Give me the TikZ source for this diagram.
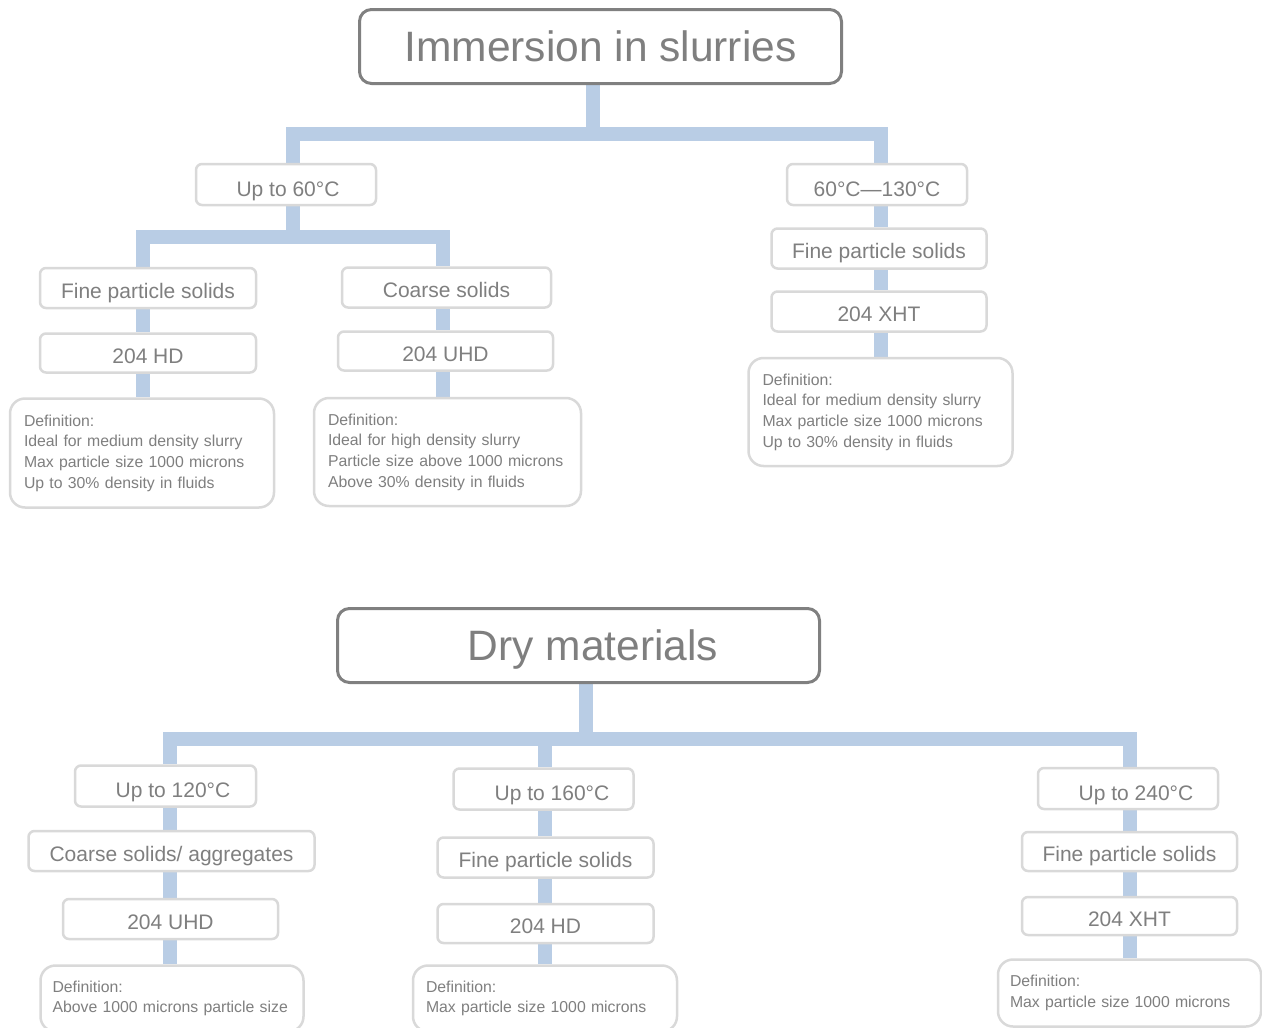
\documentclass[tikz,border=0pt]{standalone}
\usepackage{fontspec}
\setmainfont{Liberation Sans}
\usetikzlibrary{backgrounds}
\definecolor{txtgray}{HTML}{7F7F7F}
\definecolor{darkframe}{HTML}{808080}
\definecolor{lightframe}{HTML}{D9D9D9}
\definecolor{connblue}{HTML}{B9CDE5}
\begin{document}
\begin{tikzpicture}[x=1pt,y=-1pt,
  titlebox/.style={draw=darkframe, line width=3pt, rounded corners=12pt, fill=white,
    text=txtgray, inner sep=0pt, text height=30pt, text depth=0pt,
    font=\fontsize{42.5}{48}\selectfont},
  itembox/.style={draw=lightframe, line width=2.5pt, rounded corners=6pt, fill=white,
    text=txtgray, inner sep=0pt, minimum height=40pt, text height=20pt, text depth=0pt,
    font=\fontsize{21}{25}\selectfont},
  rangebox/.style={itembox, text height=23pt},
  defbox/.style={draw=lightframe, line width=2.5pt, rounded corners=15pt, fill=white,
    text=txtgray, inner xsep=14pt, inner ysep=0pt, align=left,
    font=\fontsize{15.8}{20.7}\selectfont},
  conn/.style={draw=connblue, line width=14pt, line join=miter}]
\useasboundingbox (0,0) rectangle (1262,1028);
\clip (0,0) rectangle (1262,1028);

% ---------- Immersion in slurries ----------
\node[titlebox, minimum width=482pt, minimum height=74pt] (t1) at (600.5,46.5) {Immersion in slurries};

\node[rangebox, minimum width=180pt, minimum height=41pt] (a60) at (286,184.5) {\hspace*{4pt}Up to 60°C};
\node[rangebox, minimum width=180pt, minimum height=41pt] (a130) at (877,184.5) {60°C—130°C};

\node[itembox, minimum width=216pt] (fine1) at (148,288) {Fine particle solids};
\node[itembox, minimum width=216pt, minimum height=39pt] (hd1) at (148,353) {204 HD};
\node[defbox, text width=236pt, minimum width=264pt, minimum height=109pt] (def1) at (142,453)
  {Definition:\\Ideal for medium density slurry\\Max particle size 1000 microns\\Up to 30\% density in fluids};

\node[itembox, minimum width=209pt] (coarse1) at (446.5,287.5) {Coarse solids};
\node[itembox, minimum width=215pt, minimum height=39pt] (uhd1) at (445.5,351) {204 UHD};
\node[defbox, text width=239pt, minimum width=267pt, minimum height=108pt] (def2) at (447.5,452)
  {Definition:\\Ideal for high density slurry\\Particle size above 1000 microns\\Above 30\% density in fluids};

\node[itembox, minimum width=215pt] (fine2) at (879,248.5) {Fine particle solids};
\node[itembox, minimum width=215pt] (xht1) at (879,311.5) {204 XHT};
\node[defbox, text width=236pt, minimum width=264pt, minimum height=108pt] (def3) at (880.5,412)
  {Definition:\\Ideal for medium density slurry\\Max particle size 1000 microns\\Up to 30\% density in fluids};

% ---------- Dry materials ----------
\node[titlebox, minimum width=482pt, minimum height=74pt] (t2) at (578.5,645.5) {\hspace*{29pt}Dry materials};

\node[rangebox, minimum width=181pt, minimum height=41pt] (a120) at (165.5,786) {\hspace*{15pt}Up to 120°C};
\node[itembox, minimum width=286pt] (coarse2) at (171.5,851) {Coarse solids/ aggregates};
\node[itembox, minimum width=215pt] (uhd2) at (170.5,919) {204 UHD};
\node[defbox, inner xsep=12pt, text width=239pt, minimum width=263pt, minimum height=66pt] (def4) at (172,998.5)
  {Definition:\\Above 1000 microns particle size};

\node[rangebox, minimum width=180pt, minimum height=41pt] (a160) at (543.5,789) {\hspace*{17pt}Up to 160°C};
\node[itembox, minimum width=216pt] (fine3) at (545.5,857.5) {Fine particle solids};
\node[itembox, minimum width=216pt, minimum height=39pt] (hd2) at (545.5,923.5) {204 HD};
\node[defbox, inner xsep=13pt, text width=238pt, minimum width=264pt, minimum height=66pt] (def5) at (545,998.5)
  {Definition:\\Max particle size 1000 microns};

\node[rangebox, minimum width=180pt, minimum height=41pt] (a240) at (1128,788.5) {\hspace*{16pt}Up to 240°C};
\node[itembox, minimum width=215pt, minimum height=39pt] (fine4) at (1129.5,851.5) {Fine particle solids};
\node[itembox, minimum width=215pt, minimum height=38pt] (xht2) at (1129.5,916) {204 XHT};
\node[defbox, inner xsep=12pt, text width=239pt, minimum width=263pt, minimum height=67pt] (def6) at (1129.5,993)
  {Definition:\\Max particle size 1000 microns};

% ---------- column coordinates ----------
\coordinate (k0) at (592.5,0);
\coordinate (bar1) at (0,133.5);
\coordinate (k60) at (292.5,0);
\coordinate (kR) at (880.5,0);
\coordinate (bar2) at (0,236.5);
\coordinate (kF) at (142.5,0);
\coordinate (kC) at (443,0);

\coordinate (m0) at (585.5,0);
\coordinate (bar3) at (0,738.5);
\coordinate (k120) at (170,0);
\coordinate (k160) at (544.5,0);
\coordinate (k240) at (1129.5,0);

\begin{scope}[on background layer]
  % top tree
  \draw[conn] (t1.south -| k0) |- (bar1 -| k60) -- (a60.north -| k60);
  \draw[conn] (t1.south -| k0) |- (bar1 -| kR) -- (a130.north -| kR);
  \draw[conn] (a60.south -| k60) |- (bar2 -| kF) -- (fine1.north -| kF);
  \draw[conn] (a60.south -| k60) |- (bar2 -| kC) -- (coarse1.north -| kC);
  \draw[conn] (fine1.south -| kF) -- (hd1.north -| kF);
  \draw[conn] (hd1.south -| kF) -- (def1.north -| kF);
  \draw[conn] (coarse1.south -| kC) -- (uhd1.north -| kC);
  \draw[conn] (uhd1.south -| kC) -- (def2.north -| kC);
  \draw[conn] (a130.south -| kR) -- (fine2.north -| kR);
  \draw[conn] (fine2.south -| kR) -- (xht1.north -| kR);
  \draw[conn] (xht1.south -| kR) -- (def3.north -| kR);
  % bottom tree
  \draw[conn] (t2.south -| m0) |- (bar3 -| k120) -- (a120.north -| k120);
  \draw[conn] (t2.south -| m0) |- (bar3 -| k160) -- (a160.north -| k160);
  \draw[conn] (t2.south -| m0) |- (bar3 -| k240) -- (a240.north -| k240);
  \draw[conn] (a120.south -| k120) -- (coarse2.north -| k120);
  \draw[conn] (coarse2.south -| k120) -- (uhd2.north -| k120);
  \draw[conn] (uhd2.south -| k120) -- (def4.north -| k120);
  \draw[conn] (a160.south -| k160) -- (fine3.north -| k160);
  \draw[conn] (fine3.south -| k160) -- (hd2.north -| k160);
  \draw[conn] (hd2.south -| k160) -- (def5.north -| k160);
  \draw[conn] (a240.south -| k240) -- (fine4.north -| k240);
  \draw[conn] (fine4.south -| k240) -- (xht2.north -| k240);
  \draw[conn] (xht2.south -| k240) -- (def6.north -| k240);
\end{scope}
\end{tikzpicture}
\end{document}
